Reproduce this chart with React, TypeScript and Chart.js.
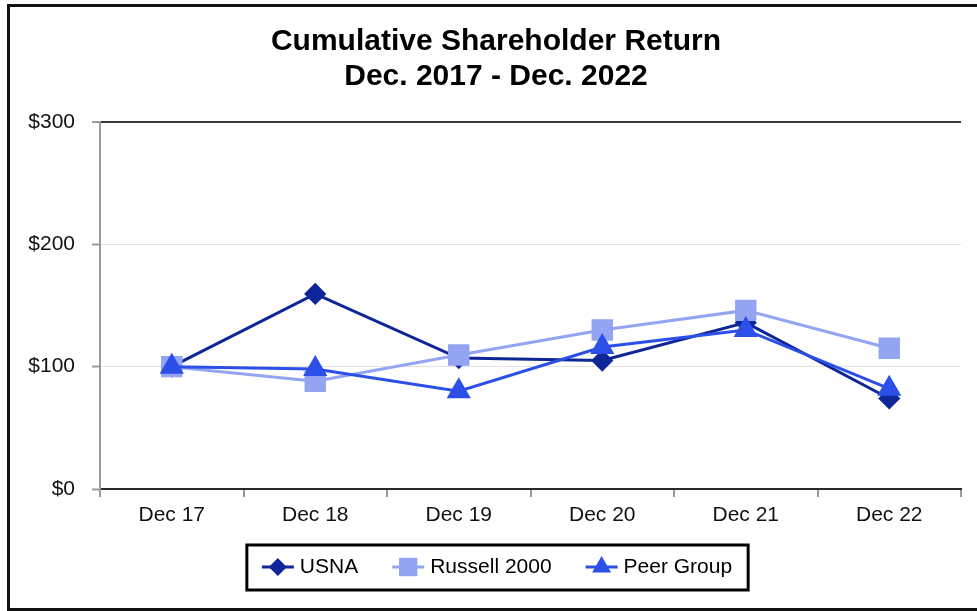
import React, { useEffect, useRef } from "react";
import { Chart, registerables } from "chart.js";

Chart.register(...registerables);

const categories = ["Dec 17", "Dec 18", "Dec 19", "Dec 20", "Dec 21", "Dec 22"];
const usnaValues = [100, 159.5, 107, 105, 136, 74];
const russellValues = [100, 88, 109.5, 130, 146, 115];
const peerValues = [100, 98, 80, 116, 130, 82];
const yTicks = [0, 100, 200, 300];
const titleLines = ["Cumulative Shareholder Return", "Dec. 2017 - Dec. 2022"];

const FONT = "'Liberation Sans', Arial, Helvetica, sans-serif";
const LEGEND_FONT_SIZE = 21;

function drawMarker(ctx: CanvasRenderingContext2D, style: string, r: number, x: number, y: number) {
  ctx.beginPath();
  if (style === "rectRot") {
    ctx.moveTo(x, y - r);
    ctx.lineTo(x + r, y);
    ctx.lineTo(x, y + r);
    ctx.lineTo(x - r, y);
  } else if (style === "rect") {
    const s = r * Math.SQRT1_2;
    ctx.rect(x - s, y - s, 2 * s, 2 * s);
  } else {
    ctx.moveTo(x, y - r);
    ctx.lineTo(x + Math.sin((2 * Math.PI) / 3) * r, y + 0.5 * r);
    ctx.lineTo(x - Math.sin((2 * Math.PI) / 3) * r, y + 0.5 * r);
  }
  ctx.closePath();
  ctx.fill();
}

const decorPlugin = {
  id: "decor",
  beforeDraw(chart: any) {
    const ctx = chart.ctx;
    ctx.save();
    ctx.fillStyle = "#ffffff";
    ctx.fillRect(0, 0, chart.width, chart.height);
    ctx.restore();
  },
  afterDraw(chart: any) {
    const ctx = chart.ctx;
    ctx.save();
    // outer frame
    ctx.strokeStyle = "#111111";
    ctx.lineWidth = 3;
    ctx.strokeRect(8.5, 5.5, 1000, 604);
    // title
    ctx.fillStyle = "#000000";
    ctx.font = `bold 30px ${FONT}`;
    ctx.textAlign = "center";
    ctx.textBaseline = "middle";
    ctx.fillText(titleLines[0], 496, 42);
    ctx.fillText(titleLines[1], 496, 77);

    // legend
    ctx.font = `${LEGEND_FONT_SIZE}px ${FONT}`;
    const datasets = chart.data.datasets;
    const lineLen = 32;
    const textGap = 6;
    const itemGap = 34;
    const widths = datasets.map((d: any) => lineLen + textGap + ctx.measureText(d.label).width);
    const total = widths.reduce((a: number, b: number) => a + b, 0) + itemGap * (datasets.length - 1);
    let x = 497 - total / 2;
    const cy = 567;
    const boxL = x - 15;
    const boxR = x + total + 16;
    ctx.lineWidth = 3;
    ctx.strokeStyle = "#000000";
    ctx.strokeRect(boxL, 545, boxR - boxL, 45);
    datasets.forEach((d: any, i: number) => {
      ctx.strokeStyle = d.borderColor;
      ctx.lineWidth = 3;
      ctx.beginPath();
      ctx.moveTo(x, cy);
      ctx.lineTo(x + lineLen, cy);
      ctx.stroke();
      ctx.fillStyle = d.pointBackgroundColor;
      drawMarker(ctx, d.pointStyle, d.pointRadius, x + lineLen / 2, cy);
      ctx.fillStyle = "#000000";
      ctx.textAlign = "left";
      ctx.textBaseline = "middle";
      ctx.fillText(d.label, x + lineLen + textGap, cy);
      x += widths[i] + itemGap;
    });
    ctx.restore();
  },
};

export default function App() {
  const canvasRef = useRef<HTMLCanvasElement | null>(null);

  useEffect(() => {
    if (!canvasRef.current) return;
    const chart = new Chart(canvasRef.current, {
      type: "line",
      data: {
        labels: categories,
        datasets: [
          {
            label: "USNA",
            data: usnaValues,
            borderColor: "#0E2698",
            backgroundColor: "#0E2698",
            pointBackgroundColor: "#0E2698",
            pointBorderColor: "#0E2698",
            pointStyle: "rectRot",
            pointRadius: 9,
            borderWidth: 3,
            tension: 0,
            order: 3,
          },
          {
            label: "Russell 2000",
            data: russellValues,
            borderColor: "#93A5F2",
            backgroundColor: "#93A5F2",
            pointBackgroundColor: "#93A5F2",
            pointBorderColor: "#93A5F2",
            pointStyle: "rect",
            pointRadius: 13,
            borderWidth: 3,
            tension: 0,
            order: 2,
          },
          {
            label: "Peer Group",
            data: peerValues,
            borderColor: "#2C4FE8",
            backgroundColor: "#2C4FE8",
            pointBackgroundColor: "#2C4FE8",
            pointBorderColor: "#2C4FE8",
            pointStyle: "triangle",
            pointRadius: 11,
            borderWidth: 3,
            tension: 0,
            order: 1,
          },
        ],
      },
      options: {
        animation: false,
        responsive: false,
        events: [],
        layout: { padding: { left: 0, top: 122, right: 12, bottom: 72 } },
        plugins: {
          legend: { display: false },
          title: { display: false },
          tooltip: { enabled: false },
        },
        scales: {
          x: {
            type: "category",
            offset: true,
            grid: {
              offset: true,
              color: (c: any) => (c.index === categories.length ? "#3a3a3a" : "rgba(0,0,0,0)"),
              lineWidth: 2,
              tickColor: "#9a9a9a",
              tickLength: 8,
              tickWidth: 2,
            },
            border: { color: "#2a2a2a", width: 2 },
            ticks: { color: "#111111", font: { family: FONT, size: 21 }, padding: 6 },
            afterFit: (s: any) => {
              s.height = 50;
            },
          },
          y: {
            min: 0,
            max: 300,
            afterBuildTicks: (s: any) => {
              s.ticks = yTicks.map((v) => ({ value: v }));
            },
            grid: {
              color: (c: any) =>
                c.tick && c.tick.value === 300 ? "#3a3a3a" : c.tick && c.tick.value === 0 ? "rgba(0,0,0,0)" : "#e2e2e2",
              lineWidth: (c: any) => (c.tick && c.tick.value === 300 ? 2 : 1),
              tickColor: "#9a9a9a",
              tickLength: 8,
              tickWidth: 2,
            },
            border: { color: "#9a9a9a", width: 2 },
            ticks: {
              color: "#111111",
              font: { family: FONT, size: 21 },
              padding: 17,
              callback: (v: any) => "$" + v,
            },
            afterFit: (s: any) => {
              s.width = 100;
            },
          },
        },
      },
      plugins: [decorPlugin],
    });
    return () => chart.destroy();
  }, []);

  return (
    <div style={{ position: "fixed", left: 0, top: 0, width: 977, height: 611 }}>
      <canvas ref={canvasRef} width={977} height={611} style={{ display: "block" }} />
    </div>
  );
}
